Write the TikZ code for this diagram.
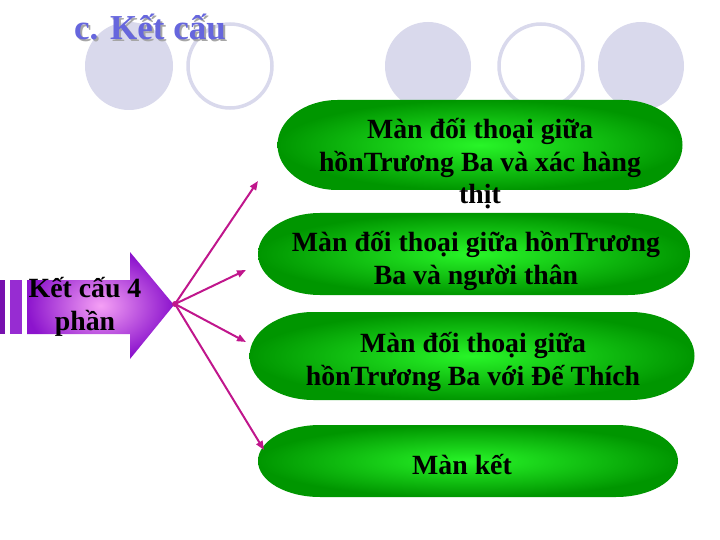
\documentclass[tikz,border=0pt]{standalone}
\usepackage{fontspec}
\setmainfont{Liberation Serif}
\usetikzlibrary{arrows.meta}
\definecolor{lav}{RGB}{217,217,236}
\definecolor{titleblue}{RGB}{102,102,221}
\definecolor{greenin}{RGB}{40,245,40}
\definecolor{greenout}{RGB}{0,150,0}
\definecolor{purpin}{RGB}{245,160,245}
\definecolor{purpout}{RGB}{140,20,205}
\definecolor{mag}{RGB}{192,22,140}
\tikzset{
  lavfill/.style={fill=lav,draw=none},
  lavring/.style={draw=lav,line width=3.5pt},
  pillshade/.style={inner color=greenin,outer color=greenout},
  greentext/.style={font=\fontsize{27.8}{32.5}\selectfont\bfseries,align=center,text=black,inner sep=0pt},
  conn/.style={draw=mag,line width=2pt,-{Triangle[length=9pt,width=7pt]}},
}
\newcommand\greenpill[5]{%
  \shade[pillshade] (#1-#3/2+#5,#2-#4/2)
    arc[start angle=270,end angle=90,x radius=#5,y radius=#4/2]
    -- (#1+#3/2-#5,#2+#4/2)
    arc[start angle=90,end angle=-90,x radius=#5,y radius=#4/2] -- cycle;}
\begin{document}
\begin{tikzpicture}[x=1pt,y=-1pt]
\useasboundingbox (0,0) rectangle (720,540);
% background circles
\path[lavfill] (129,66) ellipse[x radius=44,y radius=44];
\path[lavring] (230,66) ellipse[x radius=42,y radius=42];
\path[lavfill] (428,66) ellipse[x radius=43,y radius=44];
\path[lavring] (541,66) ellipse[x radius=42,y radius=42];
\path[lavfill] (641,66) ellipse[x radius=43,y radius=44];
% title with shadow
\node[font=\fontsize{35}{40}\selectfont\bfseries,text=gray!70] (titleshadow) at (152,29) {c. Kết cấu};
\node[font=\fontsize{35}{40}\selectfont\bfseries,text=titleblue] (title) at (150,27) {c. Kết cấu};
% green pills
\greenpill{480}{145}{405}{90}{60}
\greenpill{474}{254}{432}{82}{62}
\greenpill{472}{356}{445}{88}{64}
\greenpill{468}{461}{420}{72}{62}
\node[greentext] (s1) at (480,164) {Màn đối thoại giữa\\hồnTrương Ba và xác hàng\\thịt};
\node[greentext] (s2) at (476,261) {Màn đối thoại giữa hồnTrương\\Ba và người thân};
\node[greentext] (s3) at (473,362) {Màn đối thoại giữa\\hồnTrương Ba với Đế Thích};
\node[greentext] (s4) at (462,465) {Màn kết};
% purple arrow
\fill[purpout!85!black] (0,280) rectangle (5,334);
\fill[purpout!90] (10,280) rectangle (22,334);
\shade[inner color=purpin,outer color=purpout]
  (27,280) -- (130,280) -- (130,252) -- (174,305) -- (130,359) -- (130,334) -- (27,334) -- cycle;
\node[greentext] (kc) at (85,307) {Kết cấu 4\\phần};
\coordinate (tip) at (175,304);
\coordinate (e1) at (258,181);
\coordinate (e2) at (246,270);
\coordinate (e3) at (246,342);
\coordinate (e4) at (264,450);
\draw[conn] (tip) -- (e1);
\draw[conn] (tip) -- (e2);
\draw[conn] (tip) -- (e3);
\draw[conn] (tip) -- (e4);
\fill[mag] (tip) circle[radius=3];
\end{tikzpicture}
\end{document}
